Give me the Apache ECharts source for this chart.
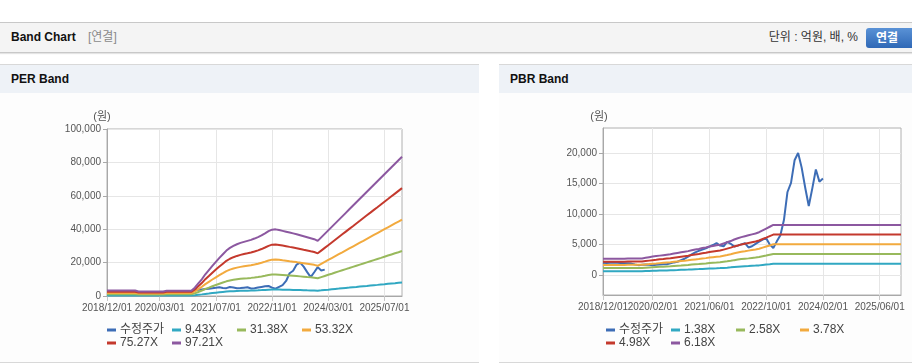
<!DOCTYPE html>
<html><head><meta charset="utf-8">
<script src="https://cdn.jsdelivr.net/npm/echarts@6/dist/echarts.min.js"></script>
<style>
body{margin:0;width:912px;height:364px;overflow:hidden;background:#fff;position:relative;font-family:Arial,"Liberation Sans","Noto Sans CJK KR",sans-serif}
#hdr{position:absolute;left:0;top:22px;width:912px;height:29px;background:#f4f4f4;border-top:1px solid #c8c8c8;border-bottom:1px solid #c8c8c8;box-shadow:0 1px 1px #e4e4e4}
#hdr .t{position:absolute;left:11px;top:0;line-height:29px;font-size:12px;font-weight:bold;color:#111}
#hdr .s{position:absolute;left:88px;top:0;line-height:29px;font-size:12px;color:#8a8a8a}
#hdr .u{position:absolute;right:54px;top:0;line-height:29px;font-size:12px;color:#333}
#hdr .b{position:absolute;left:866px;top:5px;width:50px;height:20px;border-radius:3px;background:linear-gradient(#5a92d6,#2f68b6);color:#fff;font-weight:bold;font-size:12px;line-height:20px;text-indent:10px}
.panel{position:absolute;top:64px;height:297px;background:#fdfdfd;border-top:1px solid #d8d8d8;border-bottom:1px solid #d8d8d8}
.ph{height:28px;line-height:28px;background:#eef2f7;padding-left:11px;font-size:12px;font-weight:bold;color:#111}
#chart{position:absolute;left:0;top:0;width:912px;height:364px}
</style></head><body>
<div id="hdr"><span class="t">Band Chart</span><span class="s">[연결]</span><span class="u">단위 : 억원, 배, %</span><span class="b">연결</span></div>
<div class="panel" style="left:0;width:479px"><div class="ph">PER Band</div></div>
<div class="panel" style="left:499px;width:413px"><div class="ph">PBR Band</div></div>
<div id="chart"></div>
<script>
// monthly categories 2018/12 .. 2025/12
const months = [];
for (let y = 2018, m = 12; months.length < 85;) { months.push(y + '/' + String(m).padStart(2, '0') + '/01'); m++; if (m > 12) { m = 1; y++; } }

const perTickLabels = ['2018/12/01','2020/03/01','2021/07/01','2022/11/01','2024/03/01','2025/07/01'];
const pbrTickLabels = ['2018/12/01','2020/02/01','2021/06/01','2022/10/01','2024/02/01','2025/06/01'];
const pbrYTicks = [0, 5000, 10000, 15000, 20000];

const priceName = '수정주가';
const perNames = ['9.43X','31.38X','53.32X','75.27X','97.21X'];
const pbrNames = ['1.38X','2.58X','3.78X','4.98X','6.18X'];

const price = [2000,1950,2000,2050,2000,1950,1900,1900,1850,1700,
1600,1650,1700,1650,1600,1650,1700,1750,1750,1900,
2050,2150,2400,2650,3000,3350,3700,3950,4150,4350,
4650,4900,5200,4800,4700,5400,5100,4650,4800,5000,
5200,4500,4700,5100,5450,5800,6000,5000,4400,5500,
6500,9000,13600,15100,18800,20000,17600,14300,11300,14200,
17300,15300,15800];

const per943 = [320,320,320,320,320,320,320,320,320,260,260,260,260,260,260,260,260,310,310,310,310,310,310,310,310,
490,730,970,1260,1500,1750,1980,2210,2430,2640,2790,2910,3010,3080,3140,3200,3260,3340,3420,3520,3640,3760,3850,3870,
3830,3780,3730,3690,3640,3590,3530,3470,3410,3360,3300,3200,3400,3610,3810,4020,4220,4420,4630,4830,5030,5240,5440,5650,
5850,6050,6260,6460,6660,6870,7070,7280,7480,7680,7890,8090];
const per3138 = [1070,1070,1070,1070,1070,1070,1070,1070,1070,870,870,870,870,870,870,870,870,1030,1030,1030,1030,1030,1030,1030,1030,
1610,2420,3230,4200,5000,5810,6590,7360,8070,8780,9300,9680,10010,10270,10460,10650,10850,11100,11390,11720,12110,12520,12820,12880,
12750,12590,12430,12270,12110,11940,11750,11560,11360,11170,10980,10650,11330,12010,12690,13360,14040,14720,15400,16080,16750,17430,18110,18790,
19460,20140,20820,21500,22180,22850,23530,24210,24890,25570,26240,26920];
const per5332 = [1810,1810,1810,1810,1810,1810,1810,1810,1810,1480,1480,1480,1480,1480,1480,1480,1480,1760,1760,1760,1760,1760,1760,1760,1760,
2740,4110,5490,7130,8500,9870,11190,12510,13710,14920,15800,16460,17000,17440,17770,18100,18430,18870,19360,19910,20570,21280,21780,21890,
21670,21390,21120,20840,20570,20290,19970,19640,19310,18980,18650,18100,19250,20400,21560,22710,23860,25010,26160,27320,28470,29620,30770,31920,
33070,34230,35380,36530,37680,38830,39990,41140,42290,43440,44590,45740];
const per7527 = [2560,2560,2560,2560,2560,2560,2560,2560,2560,2090,2090,2090,2090,2090,2090,2090,2090,2480,2480,2480,2480,2480,2480,2480,2480,
3870,5810,7740,10070,12000,13940,15800,17650,19360,21060,22300,23230,24000,24620,25090,25550,26020,26640,27330,28110,29040,30040,30740,30900,
30590,30200,29810,29420,29040,28650,28190,27720,27260,26790,26330,25550,27180,28800,30430,32060,33680,35310,36930,38560,40190,41810,43440,45060,
46690,48320,49940,51570,53190,54820,56450,58070,59700,61320,62950,64580];
const per9721 = [3300,3300,3300,3300,3300,3300,3300,3300,3300,2700,2700,2700,2700,2700,2700,2700,2700,3200,3200,3200,3200,3200,3200,3200,3200,
5000,7500,10000,13000,15500,18000,20400,22800,25000,27200,28800,30000,31000,31800,32400,33000,33600,34400,35300,36300,37500,38800,39700,39900,
39500,39000,38500,38000,37500,37000,36400,35800,35200,34600,34000,33000,35100,37200,39300,41400,43500,45600,47700,49800,51900,54000,56100,58200,
60300,62400,64500,66600,68700,70800,72900,75000,77100,79200,81300,83400];

const pbr138 = [590,590,590,590,590,590,590,600,600,600,600,600,630,650,670,690,710,720,740,760,780,800,830,850,870,
900,930,950,980,1010,1040,1060,1080,1110,1150,1190,1240,1300,1340,1380,1420,1450,1490,1520,1560,1630,1700,1760,
1830,1830,1830,1830,1830,1830,1830,1830,1830,1830,1830,1830,1830,1830,1830,1830,1830,1830,1830,1830,1830,1830,1830,1830,
1830,1830,1830,1830,1830,1830,1830,1830,1830,1830,1830,1830,1830];
const pbr258 = [1110,1110,1110,1110,1110,1110,1110,1130,1130,1130,1130,1130,1170,1210,1250,1290,1320,1350,1390,1420,1460,1500,1540,1590,1630,
1690,1730,1770,1840,1880,1940,1980,2020,2070,2150,2230,2320,2420,2510,2590,2650,2710,2780,2840,2920,3050,3170,3300,
3420,3420,3420,3420,3420,3420,3420,3420,3420,3420,3420,3420,3420,3420,3420,3420,3420,3420,3420,3420,3420,3420,3420,3420,
3420,3420,3420,3420,3420,3420,3420,3420,3420,3420,3420,3420,3420];
const pbr378 = [1620,1620,1620,1620,1620,1620,1620,1650,1650,1650,1650,1650,1710,1770,1840,1880,1930,1980,2030,2080,2140,2200,2260,2320,2390,
2480,2540,2600,2690,2750,2840,2910,2970,3030,3150,3270,3400,3550,3670,3790,3880,3980,4070,4160,4280,4470,4650,4830,
5020,5020,5020,5020,5020,5020,5020,5020,5020,5020,5020,5020,5020,5020,5020,5020,5020,5020,5020,5020,5020,5020,5020,5020,
5020,5020,5020,5020,5020,5020,5020,5020,5020,5020,5020,5020,5020];
const pbr498 = [2140,2140,2140,2140,2140,2140,2140,2180,2180,2180,2180,2180,2260,2340,2420,2480,2550,2610,2680,2740,2820,2900,2980,3060,3140,
3260,3340,3420,3550,3630,3750,3830,3910,3990,4150,4310,4470,4670,4830,5000,5120,5240,5360,5480,5640,5880,6120,6370,
6610,6610,6610,6610,6610,6610,6610,6610,6610,6610,6610,6610,6610,6610,6610,6610,6610,6610,6610,6610,6610,6610,6610,6610,
6610,6610,6610,6610,6610,6610,6610,6610,6610,6610,6610,6610,6610];
const pbr618 = [2650,2650,2650,2650,2650,2650,2650,2700,2700,2700,2700,2700,2800,2900,3000,3080,3160,3240,3320,3400,3500,3600,3700,3800,3900,
4050,4150,4250,4400,4500,4650,4750,4850,4950,5150,5350,5550,5800,6000,6200,6350,6500,6650,6800,7000,7300,7600,7900,
8200,8200,8200,8200,8200,8200,8200,8200,8200,8200,8200,8200,8200,8200,8200,8200,8200,8200,8200,8200,8200,8200,8200,8200,
8200,8200,8200,8200,8200,8200,8200,8200,8200,8200,8200,8200,8200];

const colors = ['#3d6db6','#31a8c2','#98b95c','#f2aa3e','#c4392d','#8c58a0'];
const FONT = "Arial, 'Liberation Sans', sans-serif";
const LFONT = "Arial, 'Noto Sans CJK KR', sans-serif";
const fmt = v => Number(v).toLocaleString('en-US');

// main x axis: grid lines, ticks and all labels except the first
function xAxisFor(gridIndex, ticks) {
  const show = (i, v) => ticks.indexOf(v) >= 0;
  const showLabel = (i, v) => ticks.indexOf(v) > 0;
  return {
    type: 'category', gridIndex, data: months, boundaryGap: false, position: 'bottom',
    axisLine: { onZero: false, lineStyle: { color: '#a8a8a8' } },
    axisTick: { show: true, interval: show, length: 5, lineStyle: { color: '#c8c8c8' } },
    axisLabel: { interval: showLabel, color: '#555', fontSize: 10, fontFamily: FONT, margin: 7 },
    splitLine: { show: true, interval: show, lineStyle: { color: '#e6e6e6' } }
  };
}
// helper x axis carrying only the first date label
function xFirstLabel(gridIndex, ticks) {
  const first = (i, v) => v === ticks[0];
  return {
    type: 'category', gridIndex, data: months, boundaryGap: false, position: 'bottom', offset: 0,
    axisLine: { show: false, onZero: false }, axisTick: { show: false }, splitLine: { show: false },
    axisLabel: { interval: first, showMinLabel: true, color: '#555', fontSize: 10, fontFamily: FONT, margin: 7 }
  };
}

const perBands = [per943, per3138, per5332, per7527, per9721];
const pbrBands = [pbr138, pbr258, pbr378, pbr498, pbr618];

const series = [];
function lineSeries(name, data, color, idx) {
  return { type: 'line', name, data, xAxisIndex: idx, yAxisIndex: idx, showSymbol: false, symbol: 'none',
    lineStyle: { width: 2, color }, itemStyle: { color }, emphasis: { disabled: true }, animation: false };
}
series.push(lineSeries(priceName, price, colors[0], 0));
perNames.forEach((n, k) => series.push(lineSeries(n, perBands[k], colors[k + 1], 0)));
series.push(lineSeries(priceName, price, colors[0], 1));
pbrNames.forEach((n, k) => series.push(lineSeries(n, pbrBands[k], colors[k + 1], 1)));

const perLegendNames = [priceName].concat(perNames);
const pbrLegendNames = [priceName].concat(pbrNames);
const perCols = [107, 172, 237, 302];
const pbrCols = [606, 671, 736, 800];
const rows = [323, 336];
const legends = [];
function addLegends(names, cols) {
  names.forEach((n, k) => {
    legends.push({ data: [n], left: cols[k % 4], top: rows[Math.floor(k / 4)], icon: 'rect', itemWidth: 9, itemHeight: 3,
      itemGap: 0, selectedMode: false, padding: 0,
      textStyle: { fontSize: 12, color: '#444', fontFamily: LFONT, lineHeight: 14, padding: [0, 0, 0, -1] } });
  });
}
addLegends(perLegendNames, perCols);
addLegends(pbrLegendNames, pbrCols);

const chart = echarts.init(document.getElementById('chart'), null, { renderer: 'canvas' });
chart.setOption({
  animation: false,
  backgroundColor: 'transparent',
  grid: [
    { left: 107, top: 129, width: 295, height: 167, show: true, backgroundColor: '#fff', borderColor: '#b0b0b0', borderWidth: 1 },
    { left: 603, top: 128, width: 298, height: 167, show: true, backgroundColor: '#fff', borderColor: '#b0b0b0', borderWidth: 1 }
  ],
  xAxis: [xAxisFor(0, perTickLabels), xAxisFor(1, pbrTickLabels), xFirstLabel(0, perTickLabels), xFirstLabel(1, pbrTickLabels)],
  yAxis: [
    { type: 'value', gridIndex: 0, min: 0, max: 100000, interval: 20000,
      name: '(원)', nameLocation: 'end', nameGap: 7,
      nameTextStyle: { color: '#555', fontSize: 11, fontFamily: LFONT, align: 'center', padding: [0, 10, 0, 0] },
      axisLine: { show: true, lineStyle: { color: '#a8a8a8' } },
      axisTick: { show: true, length: 4, lineStyle: { color: '#a8a8a8' } },
      axisLabel: { color: '#555', fontSize: 10, fontFamily: FONT, margin: 6, formatter: fmt },
      splitLine: { lineStyle: { color: '#e6e6e6' } } },
    { type: 'value', gridIndex: 1, min: -3300, max: 24100,
      name: '(원)', nameLocation: 'end', nameGap: 6,
      nameTextStyle: { color: '#555', fontSize: 11, fontFamily: LFONT, align: 'center', padding: [0, 8, 0, 0] },
      axisLine: { show: true, lineStyle: { color: '#a8a8a8' } },
      axisTick: { show: true, length: 4, customValues: pbrYTicks, lineStyle: { color: '#a8a8a8' } },
      axisLabel: { color: '#555', fontSize: 10, fontFamily: FONT, margin: 6, customValues: pbrYTicks, formatter: fmt },
      splitLine: { lineStyle: { color: '#e6e6e6' } } }
  ],
  legend: legends,
  series
});
</script>
</body></html>
